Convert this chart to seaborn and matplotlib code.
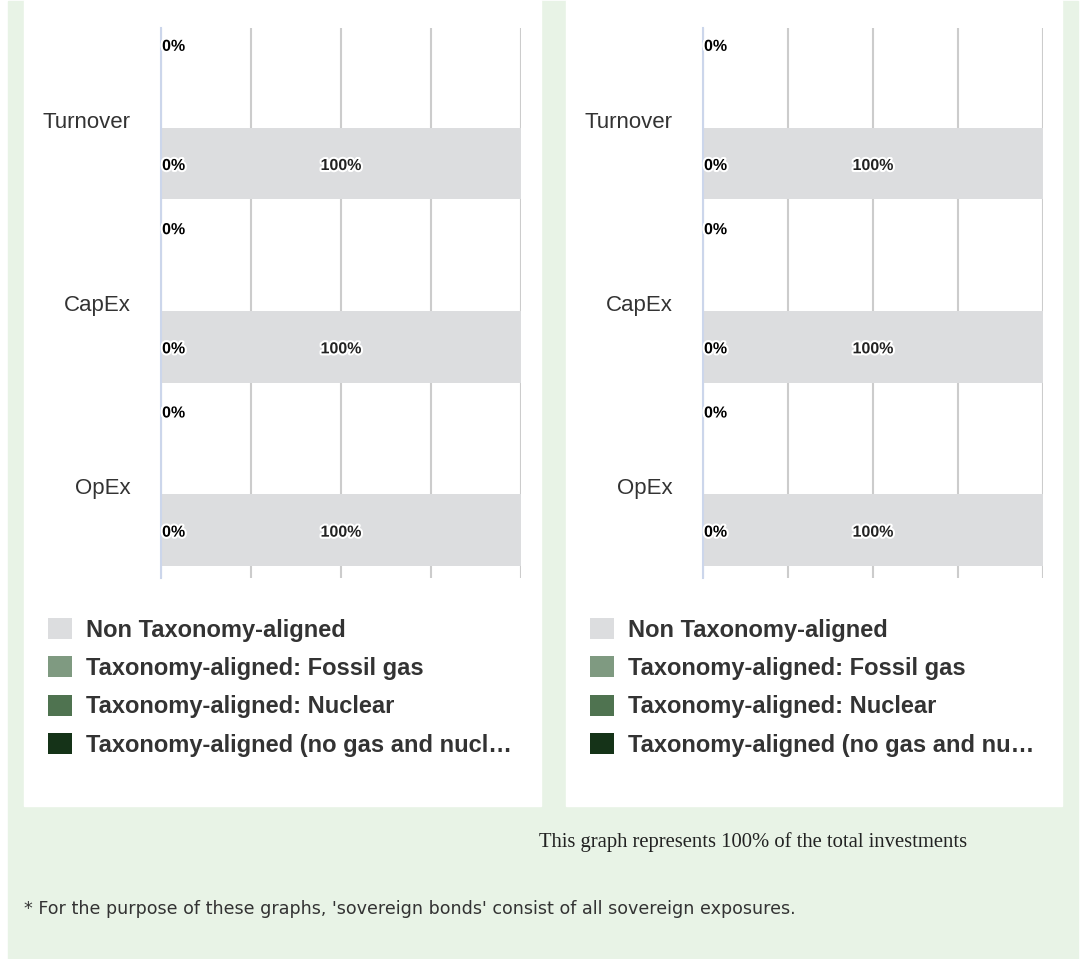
import numpy as np
import pandas as pd
import matplotlib
matplotlib.use("Agg")
import matplotlib.pyplot as plt
import matplotlib.patheffects as pe
from matplotlib.patches import Patch, Rectangle
import seaborn as sns

# ---- data -------------------------------------------------------------
categories = ["Turnover", "CapEx", "OpEx"]

series_names = [
    "Non Taxonomy-aligned",
    "Taxonomy-aligned: Fossil gas",
    "Taxonomy-aligned: Nuclear",
    "Taxonomy-aligned (no gas and nuclear)",
]

# panel 1 (left) and panel 2 (right), values in %
left_non_aligned = [100, 100, 100]
left_fossil_gas = [0, 0, 0]
left_nuclear = [0, 0, 0]
left_aligned = [0, 0, 0]

right_non_aligned = [100, 100, 100]
right_fossil_gas = [0, 0, 0]
right_nuclear = [0, 0, 0]
right_aligned = [0, 0, 0]

# which series go in which stack
stack_order = ["top", "bottom"]
stacks = {
    "top": ["Taxonomy-aligned: Fossil gas", "Taxonomy-aligned: Nuclear"],
    "bottom": ["Taxonomy-aligned (no gas and nuclear)", "Non Taxonomy-aligned"],
}

colors = {
    "Non Taxonomy-aligned": "#dcdddf",
    "Taxonomy-aligned: Fossil gas": "#7f9a81",
    "Taxonomy-aligned: Nuclear": "#4f7350",
    "Taxonomy-aligned (no gas and nuclear)": "#153318",
}

legend_left = ["Non Taxonomy-aligned", "Taxonomy-aligned: Fossil gas",
               "Taxonomy-aligned: Nuclear", "Taxonomy-aligned (no gas and nucl\u2026"]
legend_right = ["Non Taxonomy-aligned", "Taxonomy-aligned: Fossil gas",
                "Taxonomy-aligned: Nuclear", "Taxonomy-aligned (no gas and nu\u2026"]

caption = "This graph represents 100% of the total investments"
footnote = "* For the purpose of these graphs, 'sovereign bonds' consist of all sovereign exposures."

sns.set_style("white")
plt.rcParams["font.family"] = ["Liberation Sans", "DejaVu Sans"]

TEXT = "#333333"


def build_frame(values):
    rows = []
    for stack in stack_order:
        cum = np.zeros(len(categories))
        for name in stacks[stack]:
            vals = np.array(values[name], dtype=float)
            cum = cum + vals
            for cat, v, e in zip(categories, vals, cum):
                rows.append(dict(category=cat, stack=stack, series=name, value=v, end=e))
    return pd.DataFrame(rows)


def draw_panel(ax, values):
    df = build_frame(values)

    # draw stacked segments back to front so the front ones sit on top
    for stack in stack_order:
        for name in reversed(stacks[stack]):
            sub = df[(df["series"] == name) & (df["stack"] == stack)]
            sns.barplot(data=sub, x="end", y="category", hue="stack",
                        hue_order=stack_order, order=categories, orient="h",
                        palette={s: colors[name] for s in stack_order},
                        dodge=True, width=0.956, gap=0.18, saturation=1,
                        legend=False, linewidth=0, ax=ax)

    # data labels
    halo = [pe.withStroke(linewidth=3, foreground="white")]
    for _, r in df.iterrows():
        i = categories.index(r["category"])
        y = i - 0.40 if r["stack"] == "top" else i + 0.25
        if r["value"] == 0:
            x, ha = 0.3, "left"
        else:
            x, ha = r["end"] - r["value"] / 2, "center"
        ax.text(x, y, f"{r['value']:.0f}%", ha=ha, va="center",
                fontsize=11.5, fontweight="bold",
                color="#000000" if r["value"] == 0 else "#222222",
                path_effects=halo, zorder=5)

    ax.set_xlim(0, 100)
    ax.set_ylim(2.5, -0.5)
    ax.set_xticks([0, 25, 50, 75, 100])
    ax.set_xticklabels([])
    ax.set_xlabel("")
    ax.set_ylabel("")
    ax.grid(axis="x", color="#cccccc", linewidth=1.5)
    ax.grid(axis="y", visible=False)
    ax.set_axisbelow(True)
    ax.tick_params(axis="both", length=0)
    ax.tick_params(axis="y", labelsize=16, labelcolor=TEXT, pad=22)
    for side in ["top", "right", "bottom"]:
        ax.spines[side].set_visible(False)
    ax.spines["left"].set_color("#ccd6eb")
    ax.spines["left"].set_linewidth(1.5)
    ax.patch.set_alpha(0)


W, H = 1086, 959
fig = plt.figure(figsize=(W / 100, H / 100), dpi=100)

# background: green card with two white chart panels
fig.add_artist(Rectangle((8 / W, 0 / H), 1070 / W, 958 / H,
                         transform=fig.transFigure, color="#e8f3e6", zorder=-3))
fig.add_artist(Rectangle((24 / W, 1 - 806 / H), 517 / W, 806 / H,
                         transform=fig.transFigure, color="white", zorder=-2))
fig.add_artist(Rectangle((566 / W, 1 - 806 / H), 496 / W, 806 / H,
                         transform=fig.transFigure, color="white", zorder=-2))

ax1 = fig.add_axes([161 / W, 1 - 578 / H, 360 / W, 550 / H])
ax2 = fig.add_axes([703 / W, 1 - 578 / H, 340 / W, 550 / H])

left_values = {
    "Non Taxonomy-aligned": left_non_aligned,
    "Taxonomy-aligned: Fossil gas": left_fossil_gas,
    "Taxonomy-aligned: Nuclear": left_nuclear,
    "Taxonomy-aligned (no gas and nuclear)": left_aligned,
}
right_values = {
    "Non Taxonomy-aligned": right_non_aligned,
    "Taxonomy-aligned: Fossil gas": right_fossil_gas,
    "Taxonomy-aligned: Nuclear": right_nuclear,
    "Taxonomy-aligned (no gas and nuclear)": right_aligned,
}
draw_panel(ax1, left_values)
draw_panel(ax2, right_values)

# legends under each chart
for labels, x0 in [(legend_left, 48), (legend_right, 590)]:
    handles = [Patch(facecolor=colors[n], edgecolor="none") for n in series_names]
    leg = fig.legend(handles, labels, loc="upper left",
                     bbox_to_anchor=(x0 / W, 1 - 618 / H),
                     bbox_transform=fig.transFigure, frameon=False,
                     prop={"size": 17, "weight": "bold"},
                     handlelength=1.0, handleheight=1.0,
                     handletextpad=0.6, labelspacing=0.62, borderpad=0,
                     borderaxespad=0)
    for t in leg.get_texts():
        t.set_color(TEXT)

fig.text(753 / W, 1 - 842 / H, caption, ha="center", va="center",
         fontsize=14.9, color="#222222", family=["Liberation Serif", "DejaVu Serif"])
fig.text(24 / W, 1 - 909 / H, footnote, ha="left", va="center",
         fontsize=12.6, color="#333333", family=["DejaVu Sans"])

fig.savefig("out.png", dpi=100)
